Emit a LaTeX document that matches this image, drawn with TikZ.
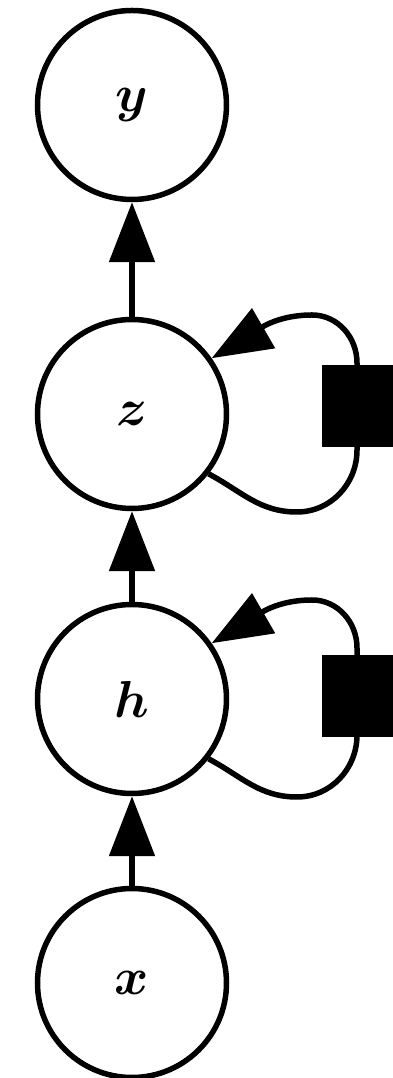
\RequirePackage{fix-cm}
\documentclass[tikz,border=0pt]{standalone}
\usepackage{bm}
\usetikzlibrary{arrows.meta,calc}
\begin{document}
\begin{tikzpicture}[x=1pt,y=1pt,
  var/.style={circle,draw,line width=5.5pt,minimum size=189pt,inner sep=0pt,font=\fontsize{52}{60}\selectfont},
  edge/.style={line width=5.5pt,-{Triangle[width=45pt,length=60pt]}},
  fac/.style={fill=black,draw=none,minimum size=82pt,inner sep=0pt}]
\useasboundingbox (0,0) rectangle (393,1078);
\node[var] (y) at (132,973) {$\bm{y}$};
\node[var] (z) at (132,664) {$\bm{z}$};
\node[var] (h) at (132,379) {$\bm{h}$};
\node[var] (x) at (132,95) {$\bm{x}$};
\draw[edge] (z) -- (y);
\draw[edge] (h) -- (z);
\draw[edge] (x) -- (h);
\foreach \n/\s/\d in {z/fz/8,h/fh/3}{
  \draw[edge] (\n.-38) to[out=-28,in=180] ($(\n)+(165,-98)$)
     to[out=0,in=-90] ($(\n)+(225,-36)$) -- ($(\n)+(225,51)$)
     to[out=90,in=0] ($(\n)+(180,99)$) to[out=180,in=30] (\n.35);
  \node[fac] (\s) at ($(\n)+(231,\d)$) {};
}
\end{tikzpicture}
\end{document}
